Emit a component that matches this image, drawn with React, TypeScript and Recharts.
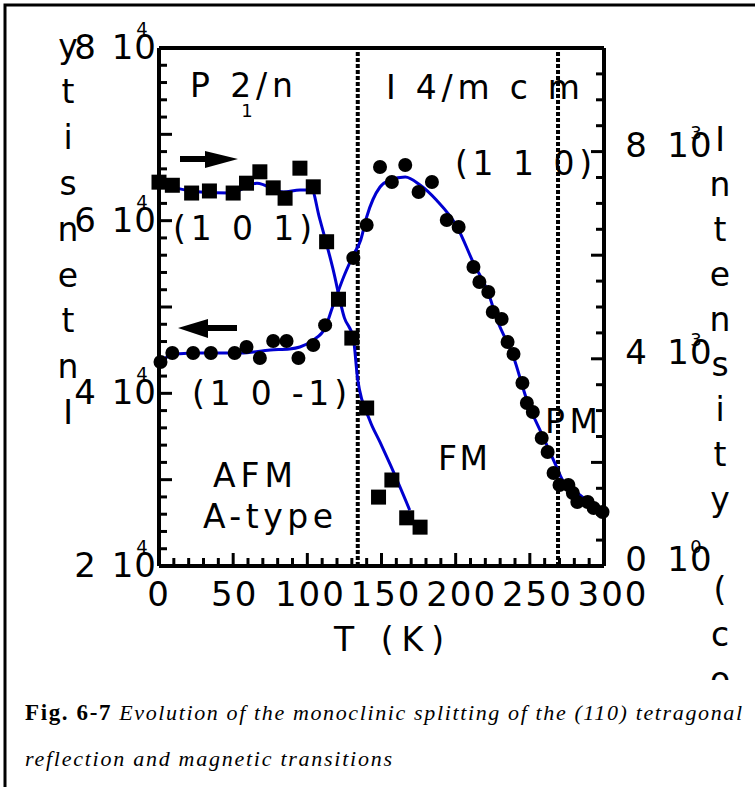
import { ComposedChart, Line, Scatter, XAxis, YAxis, ReferenceLine } from "recharts";

const FONT = "'DejaVu Sans', sans-serif";
const SERIF = "'Liberation Serif', 'Times New Roman', serif";
const BLUE = "#0000d0";

// (1 0 1) squares, right axis (counts)
const sqT = [0, 9, 22, 34, 50, 59, 68, 77, 85, 95, 104, 113, 121, 130, 140, 148, 157, 167, 176];
const sqI = [7410, 7350, 7200, 7240, 7200, 7390, 7610, 7300, 7100, 7680, 7320, 6260, 5150, 4400, 3050, 1330, 1660, 930, 750];

// (1 0 -1) circles, left axis
const c10m1T = [1, 9, 23, 35, 51, 59, 68, 77, 86, 94, 104, 112];
const c10m1I = [43630, 44670, 44670, 44670, 44670, 45370, 44090, 46060, 46060, 44090, 45600, 47900];

// (1 1 0) circles, left axis
const c110T = [131, 140, 149, 157, 166, 175, 184, 194, 202, 212, 216, 222, 225, 231, 235, 239, 245, 248, 252, 258, 262, 266, 270, 276, 279, 282, 289, 293, 299];
const c110I = [55680, 59500, 66220, 64480, 66450, 63320, 64480, 60080, 59270, 54630, 52900, 51740, 49420, 48610, 45950, 44560, 41200, 38880, 37840, 34830, 33200, 30770, 29380, 29380, 28460, 27410, 27410, 26720, 26260];

// guide curves (blue)
const fitCT = [0, 11, 28, 55, 75, 88, 95, 104, 112, 117, 125, 131, 136, 140, 149, 156, 166, 176, 187, 201, 212, 222, 228, 239, 248, 259, 268, 272, 282, 299];
const fitCI = [43630, 44560, 44670, 44670, 45020, 45140, 45370, 46180, 47570, 50000, 53710, 56020, 57760, 60430, 63900, 64710, 65060, 64130, 62390, 59270, 55100, 51620, 48490, 44210, 39230, 34940, 31470, 29960, 28460, 26260];
const fitST = [0, 11, 28, 48, 66, 84, 95, 103, 108, 117, 125, 131, 134, 142, 149, 156, 169];
const fitSI = [7390, 7300, 7220, 7200, 7390, 7220, 7260, 7260, 6740, 5770, 4790, 4400, 3590, 2820, 2390, 1950, 1080];

// transitions (dotted lines)
const transitions = [134, 269];

// axis ticks
const tTicks = [0, 10, 20, 30, 40, 50, 60, 70, 80, 90, 100, 110, 120, 130, 140, 150, 160, 170, 180, 190, 200, 210, 220, 230, 240, 250, 260, 270, 280, 290, 300];
const tLabels = [0, 50, 100, 150, 200, 250, 300];
const leftTicks = [20000, 22000, 24000, 26000, 28000, 30000, 32000, 34000, 36000, 38000, 40000, 42000, 44000, 46000, 48000, 50000, 52000, 54000, 56000, 58000, 60000, 62000, 64000, 66000, 68000, 70000, 72000, 74000, 76000, 78000, 80000];
const leftLabels = [20000, 40000, 60000, 80000];
const rightTicks = [0, 500, 1000, 1500, 2000, 2500, 3000, 3500, 4000, 4500, 5000, 5500, 6000, 6500, 7000, 7500, 8000, 8500, 9000, 9500, 10000];
const rightLabels = [0, 4000, 8000];

const zip = (t: number[], v: number[]) => t.map((x, i) => ({ t: x, v: v[i] }));
const squares = zip(sqT, sqI);
const circlesA = zip(c10m1T, c10m1I);
const circlesB = zip(c110T, c110I);
const fitC = zip(fitCT, fitCI);
const fitS = zip(fitST, fitSI);

const XTick = (props: any) => {
	const { x, y, payload } = props;
	const v = payload.value;
	const big = v % 50 === 0;
	return (
		<g>
			<line x1={x} y1={y} x2={x} y2={y - (big ? 13 : 8)} stroke="#000" strokeWidth={3} />
			{tLabels.includes(v) && (
				<text x={x + v * 0.03} y={y + 40} textAnchor="middle" fontSize={34} letterSpacing={2} fontFamily={FONT} fill="#000">
					{v}
				</text>
			)}
		</g>
	);
};

const LeftTick = (props: any) => {
	const { x, y, payload } = props;
	const v = payload.value;
	const big = v % 10000 === 0;
	return (
		<g>
			<line x1={x} y1={y} x2={x + (big ? 13 : 8)} y2={y} stroke="#000" strokeWidth={3} />
			{leftLabels.includes(v) && (
				<g fontFamily={FONT} fill="#000">
					<text x={x - 74} y={y + 11} textAnchor="middle" fontSize={34}>{v / 10000}</text>
					<text x={x - 2} y={y + 11} textAnchor="end" fontSize={34} letterSpacing={1}>10</text>
					<text x={x - 17} y={y - 13} textAnchor="middle" fontSize={18}>4</text>
				</g>
			)}
		</g>
	);
};

const RightTick = (props: any) => {
	const { x, y, payload } = props;
	const v = payload.value;
	const big = v % 2000 === 0;
	return (
		<g>
			<line x1={x} y1={y} x2={x - (big ? 13 : 8)} y2={y} stroke="#000" strokeWidth={3} />
			{rightLabels.includes(v) && (
				<g fontFamily={FONT} fill="#000">
					<text x={x + 32} y={y + 5} textAnchor="middle" fontSize={34}>{v / 1000}</text>
					<text x={x + 86} y={y + 5} textAnchor="middle" fontSize={34} letterSpacing={1}>10</text>
					<text x={x + 92} y={y - 13} textAnchor="middle" fontSize={18}>{v === 0 ? 0 : 3}</text>
				</g>
			)}
		</g>
	);
};

const SquareDot = (p: any) => <rect x={p.cx - 7.5} y={p.cy - 7.5} width={15} height={15} fill="#000" />;
const RoundDot = (p: any) => <circle cx={p.cx} cy={p.cy} r={7} fill="#000" />;

const Note = ({ x, y, w, children }: any) => (
	<text x={x} y={y} textLength={w} lengthAdjust="spacing" fontSize={33} fontFamily={FONT} fill="#000">
		{children}
	</text>
);

// axis titles are drawn one letter per line, as in the source figure
const leftTitle = "Intensity";
const rightTitle = "Intensity (co";

export default function App() {
	return (
		<div style={{ position: "absolute", left: 0, top: 0, width: 755, height: 787, background: "#fff", overflow: "hidden" }}>
			<div style={{ position: "absolute", left: 0, top: 0 }}>
				<ComposedChart width={755} height={700} margin={{ top: 48, right: 111, bottom: 104, left: 119 }}>
					<XAxis
						type="number"
						dataKey="t"
						domain={[0, 300]}
						ticks={tTicks}
						interval={0}
						height={30}
						tickSize={0}
						tickMargin={0}
						tickLine={false}
						tick={<XTick />}
						axisLine={{ stroke: "#000", strokeWidth: 4 }}
					/>
					<YAxis
						yAxisId="L"
						type="number"
						domain={[20000, 80000]}
						ticks={leftTicks}
						interval={0}
						width={40}
						tickSize={0}
						tickMargin={0}
						tickLine={false}
						tick={<LeftTick />}
						axisLine={{ stroke: "#000", strokeWidth: 4 }}
					/>
					<YAxis
						yAxisId="R"
						orientation="right"
						type="number"
						domain={[0, 10000]}
						ticks={rightTicks}
						interval={0}
						width={40}
						tickSize={0}
						tickMargin={0}
						tickLine={false}
						tick={<RightTick />}
						axisLine={{ stroke: "#000", strokeWidth: 4 }}
					/>
					<ReferenceLine yAxisId="L" y={80000} stroke="#000" strokeWidth={4} />
					{transitions.map((t) => (
						<ReferenceLine key={t} yAxisId="L" x={t} stroke="#000" strokeWidth={4} strokeDasharray="4 2" />
					))}
					<Line yAxisId="L" data={fitC} dataKey="v" type="monotone" stroke={BLUE} strokeWidth={3} dot={false} isAnimationActive={false} />
					<Line yAxisId="R" data={fitS} dataKey="v" type="monotone" stroke={BLUE} strokeWidth={3} dot={false} isAnimationActive={false} />
					<Scatter yAxisId="R" data={squares} dataKey="v" shape={SquareDot} isAnimationActive={false} />
					<Scatter yAxisId="L" data={circlesA} dataKey="v" shape={RoundDot} isAnimationActive={false} />
					<Scatter yAxisId="L" data={circlesB} dataKey="v" shape={RoundDot} isAnimationActive={false} />
				</ComposedChart>
			</div>
			<svg width={755} height={787} style={{ position: "absolute", left: 0, top: 0, pointerEvents: "none" }}>
				<defs>
					<clipPath id="titleClip">
						<rect x={0} y={0} width={755} height={680} />
					</clipPath>
				</defs>
				<path d="M5,787 V5 H755" fill="none" stroke="#000" strokeWidth={3} />
				{leftTitle.split("").map((ch, i) => (
					<text key={"l" + i} x={68} y={424 - 45.8 * i} textAnchor="middle" fontSize={33} fontFamily={FONT} fill="#000">
						{ch}
					</text>
				))}
				<g clipPath="url(#titleClip)">
					{rightTitle.split("").map((ch, i) => (
						<text key={"r" + i} x={720} y={151 + 45 * i} textAnchor="middle" fontSize={33} fontFamily={FONT} fill="#000">
							{ch}
						</text>
					))}
				</g>
				<Note x={190} y={97} w={103}>P 2/n</Note>
				<text x={247} y={117} textAnchor="middle" fontSize={18} fontFamily={FONT} fill="#000">1</text>
				<Note x={386} y={99} w={194}>I 4/m c m</Note>
				<Note x={455} y={175} w={137}>(1 1 0)</Note>
				<Note x={173} y={240} w={139}>(1 0 1)</Note>
				<Note x={192} y={405} w={155}>(1 0 -1)</Note>
				<Note x={213} y={487} w={80}>AFM</Note>
				<Note x={203} y={528} w={130}>A-type</Note>
				<Note x={438} y={470} w={50}>FM</Note>
				<Note x={545} y={433} w={53}>PM</Note>
				<Note x={334} y={651} w={110}>T  (K)</Note>
				<line x1={180} y1={159} x2={210} y2={159} stroke="#000" strokeWidth={6} />
				<polygon points="205,151 238,159 205,168" fill="#000" />
				<polygon points="178,328 208,319 208,338" fill="#000" />
				<line x1={204} y1={328} x2={237} y2={328} stroke="#000" strokeWidth={6} />
				<text x={25} y={720} textLength={717} lengthAdjust="spacing" fontFamily={SERIF} fill="#000">
					<tspan fontWeight="bold" fontSize={23}>Fig. 6-7</tspan>
					<tspan fontStyle="italic" fontSize={22}> Evolution of the monoclinic splitting of the (110) tetragonal</tspan>
				</text>
				<text x={25} y={766} textLength={367} lengthAdjust="spacing" fontFamily={SERIF} fontStyle="italic" fontSize={22} fill="#000">
					reflection and magnetic transitions
				</text>
			</svg>
		</div>
	);
}
